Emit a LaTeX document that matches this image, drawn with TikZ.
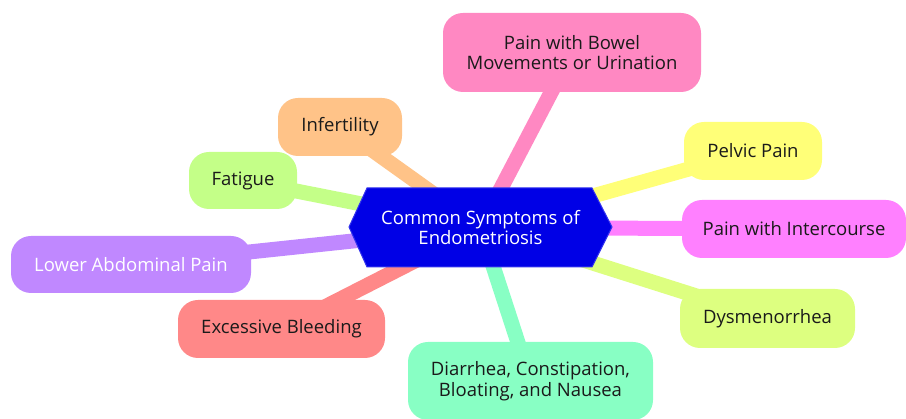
\documentclass[tikz,border=0pt]{standalone}
\usepackage{fontspec}
\setmainfont{Open Sans}
\usetikzlibrary{backgrounds}
\definecolor{cpink}{HTML}{FF88C2}
\definecolor{cyellow}{HTML}{FFFF78}
\definecolor{cmagenta}{HTML}{FF80FF}
\definecolor{cdys}{HTML}{DDFF80}
\definecolor{cmint}{HTML}{88FFC4}
\definecolor{corange}{HTML}{FFC388}
\definecolor{cgreen}{HTML}{C4FF88}
\definecolor{cpurple}{HTML}{C088FF}
\definecolor{csalmon}{HTML}{FF8888}
\definecolor{chub}{HTML}{0000E6}
\definecolor{chubline}{HTML}{3333EE}
\definecolor{ctext}{HTML}{1A1A1A}
\tikzset{
  leaf/.style={rounded corners=20pt, inner sep=0pt, align=center, text=ctext,
    font={\fontsize{18.5pt}{20.8pt}\selectfont}},
  link/.style={line width=15pt},
}
\begin{document}
\begin{tikzpicture}[x=1pt,y=-1pt]
\useasboundingbox (0,0) rectangle (906,419);
% hub hexagon
\fill[chub, draw=chubline, line width=1pt] (349,227) -- (367,188) -- (592,188) -- (612,227) -- (592,267) -- (367,267) -- cycle;
\node[align=center, text=white, font={\fontsize{18.5pt}{19.5pt}\selectfont}] (hub) at (480.5,227.5) {Common Symptoms of\\Endometriosis};
% leaves
\node[leaf, fill=cpink, minimum width=258pt, minimum height=79pt] (bowel) at (572,52.5) {Pain with Bowel\\Movements or Urination};
\node[leaf, fill=cyellow, minimum width=138pt, minimum height=58pt] (pelvic) at (753,151) {Pelvic Pain};
\node[leaf, fill=cmagenta, minimum width=224pt, minimum height=58pt] (inter) at (794,229) {Pain with Intercourse};
\node[leaf, fill=cdys, minimum width=175pt, minimum height=59pt] (dys) at (767.5,318.5) {Dysmenorrhea};
\node[leaf, fill=cmint, minimum width=245pt, minimum height=78pt] (diar) at (530.5,381) {Diarrhea, Constipation,\\Bloating, and Nausea};
\node[leaf, fill=corange, minimum width=124pt, minimum height=58pt] (infert) at (340,127) {Infertility};
\node[leaf, fill=cgreen, minimum width=108pt, minimum height=57pt] (fatigue) at (243,180.5) {Fatigue};
\node[leaf, fill=cpurple, text=white, minimum width=240pt, minimum height=57pt] (lower) at (131,264.5) {Lower Abdominal Pain};
\node[leaf, fill=csalmon, minimum width=207pt, minimum height=58pt] (bleed) at (281.5,329) {Excessive Bleeding};
% connectors
\begin{pgfonlayer}{background}
\draw[link, cpink] (hub.center) -- (bowel.center);
\draw[link, cyellow] (hub.center) -- (pelvic.center);
\draw[link, cmagenta] (hub.center) -- (inter.center);
\draw[link, cdys] (hub.center) -- (dys.center);
\draw[link, cmint] (hub.center) -- (diar.center);
\draw[link, corange] (hub.center) -- (infert.center);
\draw[link, cgreen] (hub.center) -- (fatigue.center);
\draw[link, cpurple] (hub.center) -- (lower.center);
\draw[link, csalmon] (hub.center) -- (bleed.center);
\end{pgfonlayer}
\end{tikzpicture}
\end{document}
